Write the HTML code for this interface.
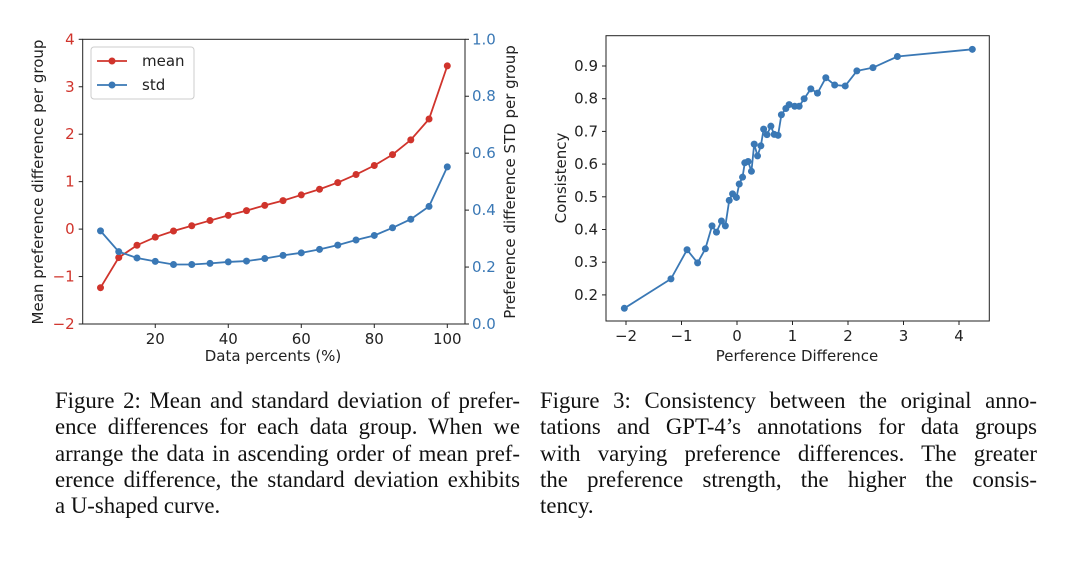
<!DOCTYPE html>
<html><head><meta charset="utf-8"><style>
body{margin:0;width:1080px;height:564px;background:#fff;overflow:hidden;position:relative;font-family:"DejaVu Sans","Liberation Sans",sans-serif}
svg{position:absolute;left:0;top:0}
.cap{position:absolute;font-family:"Liberation Serif",serif;font-size:22.8px;line-height:26.3px;color:#111}
.cap div{text-align:justify;text-align-last:justify;white-space:nowrap}
.cap div.last{text-align-last:left}
</style></head><body>
<svg id="chart" width="1080" height="380"></svg>
<div class="cap" style="left:55px;top:388px;width:465px">
<div>Figure 2: Mean and standard deviation of prefer-</div>
<div>ence differences for each data group. When we</div>
<div>arrange the data in ascending order of mean pref-</div>
<div>erence difference, the standard deviation exhibits</div>
<div class="last">a U-shaped curve.</div></div>
<div class="cap" style="left:540px;top:388px;width:497px">
<div>Figure 3: Consistency between the original anno-</div>
<div>tations and GPT-4’s annotations for data groups</div>
<div>with varying preference differences. The greater</div>
<div>the preference strength, the higher the consis-</div>
<div class="last">tency.</div></div>
<script>
const percents=[5,10,15,20,25,30,35,40,45,50,55,60,65,70,75,80,85,90,95,100];
const meanVals=[-1.235,-0.6,-0.34,-0.17,-0.04,0.07,0.18,0.29,0.39,0.5,0.6,0.72,0.84,0.98,1.15,1.34,1.57,1.88,2.32,3.44];
const stdVals=[0.327,0.254,0.232,0.22,0.209,0.209,0.213,0.218,0.221,0.23,0.241,0.25,0.262,0.277,0.295,0.311,0.338,0.368,0.413,0.552];
const leftXTicks=[20,40,60,80,100];
const leftYTicks=[-2,-1,0,1,2,3,4];
const rightYTicks=[0.0,0.2,0.4,0.6,0.8,1.0];
const prefDiff=[-2.03,-1.19,-0.9,-0.71,-0.57,-0.45,-0.37,-0.28,-0.21,-0.14,-0.08,-0.01,0.04,0.1,0.14,0.2,0.26,0.31,0.37,0.43,0.48,0.54,0.61,0.67,0.74,0.8,0.88,0.94,1.04,1.12,1.21,1.33,1.45,1.6,1.76,1.95,2.16,2.45,2.89,4.24];
const consistency=[0.159,0.249,0.338,0.298,0.341,0.411,0.392,0.426,0.411,0.489,0.509,0.498,0.539,0.56,0.604,0.608,0.578,0.661,0.625,0.656,0.707,0.69,0.716,0.691,0.688,0.751,0.77,0.782,0.777,0.777,0.8,0.83,0.817,0.864,0.842,0.839,0.885,0.895,0.929,0.951];
const cXTicks=[-2,-1,0,1,2,3,4];
const cYTicks=[0.2,0.3,0.4,0.5,0.6,0.7,0.8,0.9];

const svg=document.getElementById('chart');
const NS='http://www.w3.org/2000/svg';
function el(tag,attrs,text){const e=document.createElementNS(NS,tag);for(const k in attrs)e.setAttribute(k,attrs[k]);if(text!==undefined)e.textContent=text;svg.appendChild(e);return e;}
const RED='#d0342c',BLUE='#3a78b5';
const FS=15;
function fmt(v){return v<0?'\u2212'+Math.abs(v):String(v);}

// left chart
const L={x0:82.7,x1:465,y0:39.3,y1:324};
const lx=v=>100.5+(v-5)*(447.3-100.5)/95;
const ly=v=>L.y1-(v+2)*(L.y1-L.y0)/6;
const ry=v=>L.y1-v*(L.y1-L.y0);
let f=el('rect',{x:L.x0,y:L.y0,width:L.x1-L.x0,height:L.y1-L.y0,fill:'none',stroke:'#222','stroke-width':1});

leftXTicks.forEach(t=>{const x=lx(t);el('line',{x1:x,x2:x,y1:L.y1,y2:L.y1+4,stroke:'#222'});
 const tx=el('text',{x:x,y:L.y1+20,'text-anchor':'middle','font-size':FS,fill:'#222'},t);
 });
leftYTicks.forEach(t=>{const y=ly(t);el('line',{x1:L.x0-4,x2:L.x0,y1:y,y2:y,stroke:'#222'});
 const tx=el('text',{x:L.x0-8,y:y+5,'text-anchor':'end','font-size':FS,fill:RED},fmt(t));
 });
rightYTicks.forEach(t=>{const y=ry(t);el('line',{x1:L.x1,x2:L.x1+4,y1:y,y2:y,stroke:'#222'});
 const tx=el('text',{x:L.x1+7,y:y+5,'font-size':FS,fill:BLUE},t.toFixed(1));
 });
let t1=el('text',{x:273,y:361,'text-anchor':'middle','font-size':FS,fill:'#222'},'Data percents (%)');

let t2=el('text',{x:0,y:0,'text-anchor':'middle','font-size':FS,fill:'#222',transform:'translate(43,182) rotate(-90)'},'Mean preference difference per group');

let t3=el('text',{x:0,y:0,'text-anchor':'middle','font-size':FS,fill:'#222',transform:'translate(515,182) rotate(-90)'},'Preference difference STD per group');

function series(xs,ys,fx,fy,color,name){
 const p=el('polyline',{points:xs.map((x,i)=>fx(x)+','+fy(ys[i])).join(' '),fill:'none',stroke:color,'stroke-width':1.8});
 
 xs.forEach((x,i)=>{const c=el('circle',{cx:fx(x),cy:fy(ys[i]),r:3.5,fill:color});
  });
}
series(percents,meanVals,lx,ly,RED,'mean');
series(percents,stdVals,lx,ry,BLUE,'std');
let lg=el('rect',{x:91,y:47,width:103,height:52,rx:3,fill:'#fff',stroke:'#ccc'});

[['mean',RED,61],['std',BLUE,85]].forEach(([n,c,y])=>{
 el('line',{x1:97,x2:127,y1:y,y2:y,stroke:c,'stroke-width':1.8});el('circle',{cx:112,cy:y,r:3.5,fill:c});
 const tx=el('text',{x:142,y:y+5,'font-size':FS,fill:'#222'},n);
 });

// right chart
const R={x0:606,x1:989.3,y0:35.7,y1:321};
const cx=v=>626+(v+2)*(959-626)/6;
const cy=v=>66+(0.9-v)*327;
f=el('rect',{x:R.x0,y:R.y0,width:R.x1-R.x0,height:R.y1-R.y0,fill:'none',stroke:'#222','stroke-width':1});

cXTicks.forEach(t=>{const x=cx(t);el('line',{x1:x,x2:x,y1:R.y1,y2:R.y1+4,stroke:'#222'});
 const tx=el('text',{x:x,y:R.y1+20,'text-anchor':'middle','font-size':FS,fill:'#222'},fmt(t));
 });
cYTicks.forEach(t=>{const y=cy(t);el('line',{x1:R.x0-4,x2:R.x0,y1:y,y2:y,stroke:'#222'});
 const tx=el('text',{x:R.x0-8,y:y+5,'text-anchor':'end','font-size':FS,fill:'#222'},t.toFixed(1));
 });
let t4=el('text',{x:797,y:361,'text-anchor':'middle','font-size':FS,fill:'#222'},'Perference Difference');

let t5=el('text',{x:0,y:0,'text-anchor':'middle','font-size':FS,fill:'#222',transform:'translate(566,178) rotate(-90)'},'Consistency');

series(prefDiff,consistency,cx,cy,BLUE,'consistency');
</script>
</body></html>
